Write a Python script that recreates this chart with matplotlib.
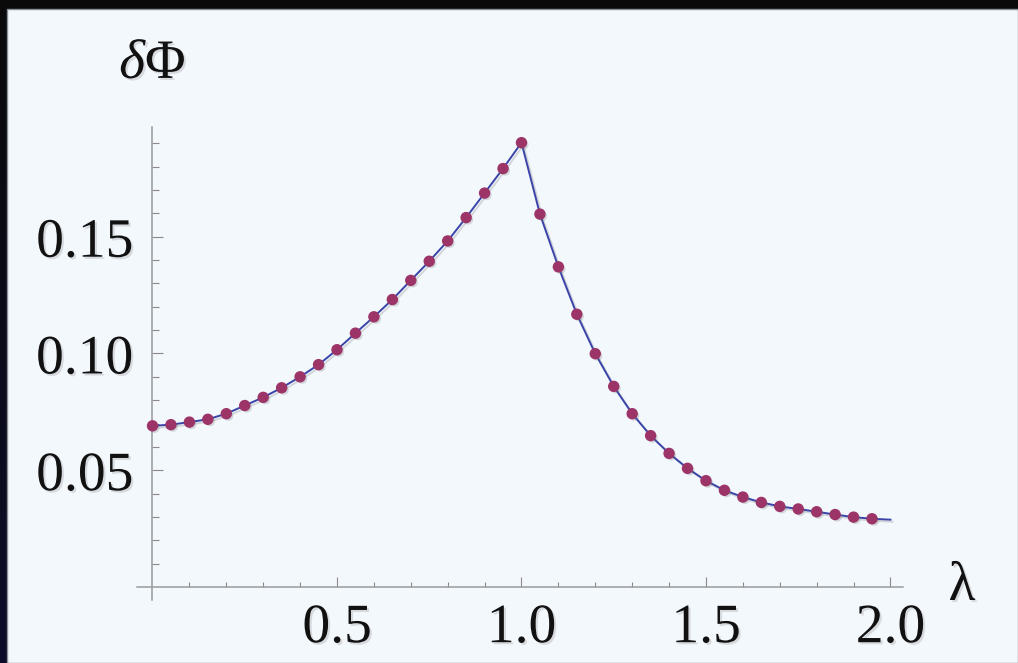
import numpy as np
import matplotlib
matplotlib.use("Agg")
import matplotlib.pyplot as plt
from matplotlib.patches import Rectangle
from matplotlib.ticker import FixedLocator, FormatStrFormatter
import matplotlib.patheffects as pe

# Sampled values of delta Phi versus lambda
lam = [0.00, 0.05, 0.10, 0.15, 0.20, 0.25, 0.30, 0.35, 0.40, 0.45,
       0.50, 0.55, 0.60, 0.65, 0.70, 0.75, 0.80, 0.85, 0.90, 0.95,
       1.00, 1.05, 1.10, 1.15, 1.20, 1.25, 1.30, 1.35, 1.40, 1.45,
       1.50, 1.55, 1.60, 1.65, 1.70, 1.75, 1.80, 1.85, 1.90, 1.95]
dphi = [0.0690, 0.0695, 0.0706, 0.0718, 0.0742, 0.0777, 0.0812, 0.0853, 0.0900, 0.0952,
        0.1016, 0.1087, 0.1157, 0.1231, 0.1313, 0.1395, 0.1482, 0.1582, 0.1687, 0.1792,
        0.1903, 0.1597, 0.1371, 0.1168, 0.0999, 0.0859, 0.0742, 0.0648, 0.0572, 0.0508,
        0.0455, 0.0414, 0.0385, 0.0362, 0.0345, 0.0334, 0.0322, 0.0310, 0.0299, 0.0292]

# Continuous curve (same samples, extended to lambda = 2)
curve_lam = lam + [2.00]
curve_dphi = dphi + [0.0288]

x_major = [0.5, 1.0, 1.5, 2.0]
x_minor = [0.1, 0.2, 0.3, 0.4, 0.6, 0.7, 0.8, 0.9, 1.1, 1.2, 1.3, 1.4,
           1.6, 1.7, 1.8, 1.9]
y_major = [0.05, 0.10, 0.15]
y_minor = [0.01, 0.02, 0.03, 0.04, 0.06, 0.07, 0.08, 0.09, 0.11, 0.12,
           0.13, 0.14, 0.16, 0.17, 0.18, 0.19]

plt.rcParams['mathtext.fontset'] = 'custom'
plt.rcParams['mathtext.rm'] = 'Liberation Serif'
plt.rcParams['mathtext.it'] = 'Liberation Serif:italic'
plt.rcParams['font.family'] = ['Liberation Serif', 'DejaVu Serif']

W, H = 1018, 663
fig = plt.figure(figsize=(W / 100, H / 100), dpi=100)
fig.patch.set_facecolor('#0a0a0a')

# dark frame: black at the top fading to deep navy at the bottom
bg = fig.add_axes([0, 0, 1, 1], zorder=-10)
grad = np.linspace(0, 1, 256)[:, None]
top = np.array([0.04, 0.04, 0.04])
bot = np.array([0.05, 0.05, 0.16])
img = top[None, None, :] * (1 - grad[..., None]) + bot[None, None, :] * grad[..., None]
bg.imshow(img, aspect='auto', extent=[0, 1, 0, 1], origin='upper')
bg.set_xlim(0, 1)
bg.set_ylim(0, 1)
bg.axis('off')

# light panel
px0, py0 = 7 / W, 0.0
panel = Rectangle((px0, py0), 1 - px0, 1 - 9 / H, transform=fig.transFigure,
                  facecolor='#f3f8fd', edgecolor='#8a8f96', linewidth=1.0,
                  zorder=-5)
fig.patches.append(panel)

ax = fig.add_axes([137 / W, 63 / H, 766 / W, 473 / H])
ax.set_facecolor('none')
ax.set_xlim(-0.042, 2.034)
ax.set_ylim(-0.0056, 0.197)

shadow = [pe.SimpleLineShadow(offset=(1.5, -1.5), shadow_color='#707070', alpha=0.25),
          pe.Normal()]
ax.plot(curve_lam, curve_dphi, color='#3a44a8', lw=1.4, zorder=3,
        path_effects=shadow)
ax.plot(lam, dphi, linestyle='none', marker='o', markersize=7.2,
        markerfacecolor='#9c3468', markeredgecolor='#9c3468', zorder=4,
        path_effects=[pe.SimplePatchShadow(offset=(1.5, -1.5), shadow_rgbFace='#707070', alpha=0.25),
                      pe.Normal()])

for s in ('top', 'right'):
    ax.spines[s].set_visible(False)
ax.spines['left'].set_position(('data', 0))
ax.spines['bottom'].set_position(('data', 0))
for s in ('left', 'bottom'):
    ax.spines[s].set_color('#9a9a9a')
    ax.spines[s].set_linewidth(1.1)

ax.xaxis.set_major_locator(FixedLocator(x_major))
ax.xaxis.set_minor_locator(FixedLocator(x_minor))
ax.yaxis.set_major_locator(FixedLocator(y_major))
ax.yaxis.set_minor_locator(FixedLocator(y_minor))
ax.xaxis.set_major_formatter(FormatStrFormatter('%.1f'))
ax.yaxis.set_major_formatter(FormatStrFormatter('%.2f'))

txt_shadow = [pe.withSimplePatchShadow(offset=(1.5, -1.5), shadow_rgbFace='#808080', alpha=0.25)]

ax.tick_params(axis='x', which='major', direction='in', length=7, width=0.8,
               color='#8a8a8a', labelsize=40, pad=11, labelcolor='#111111')
ax.tick_params(axis='x', which='minor', direction='in', length=3.5, width=0.8,
               color='#8a8a8a')
ax.tick_params(axis='y', which='major', direction='in', length=8, width=0.8,
               color='#8a8a8a', labelsize=40, pad=14, labelcolor='#111111')
ax.tick_params(axis='y', which='minor', direction='in', length=5, width=0.8,
               color='#8a8a8a')
for lab in ax.get_xticklabels() + ax.get_yticklabels():
    lab.set_path_effects(txt_shadow)

fig.text(152.5 / W, 1 - 64 / H, r'$\delta\Phi$', fontsize=40, ha='center',
         va='center', color='#111111', path_effects=txt_shadow)
fig.text(962 / W, 1 - 586 / H, 'λ', fontsize=40, ha='center', va='center',
         color='#111111', path_effects=txt_shadow)

fig.savefig('out.png', dpi=100, facecolor=fig.get_facecolor())
